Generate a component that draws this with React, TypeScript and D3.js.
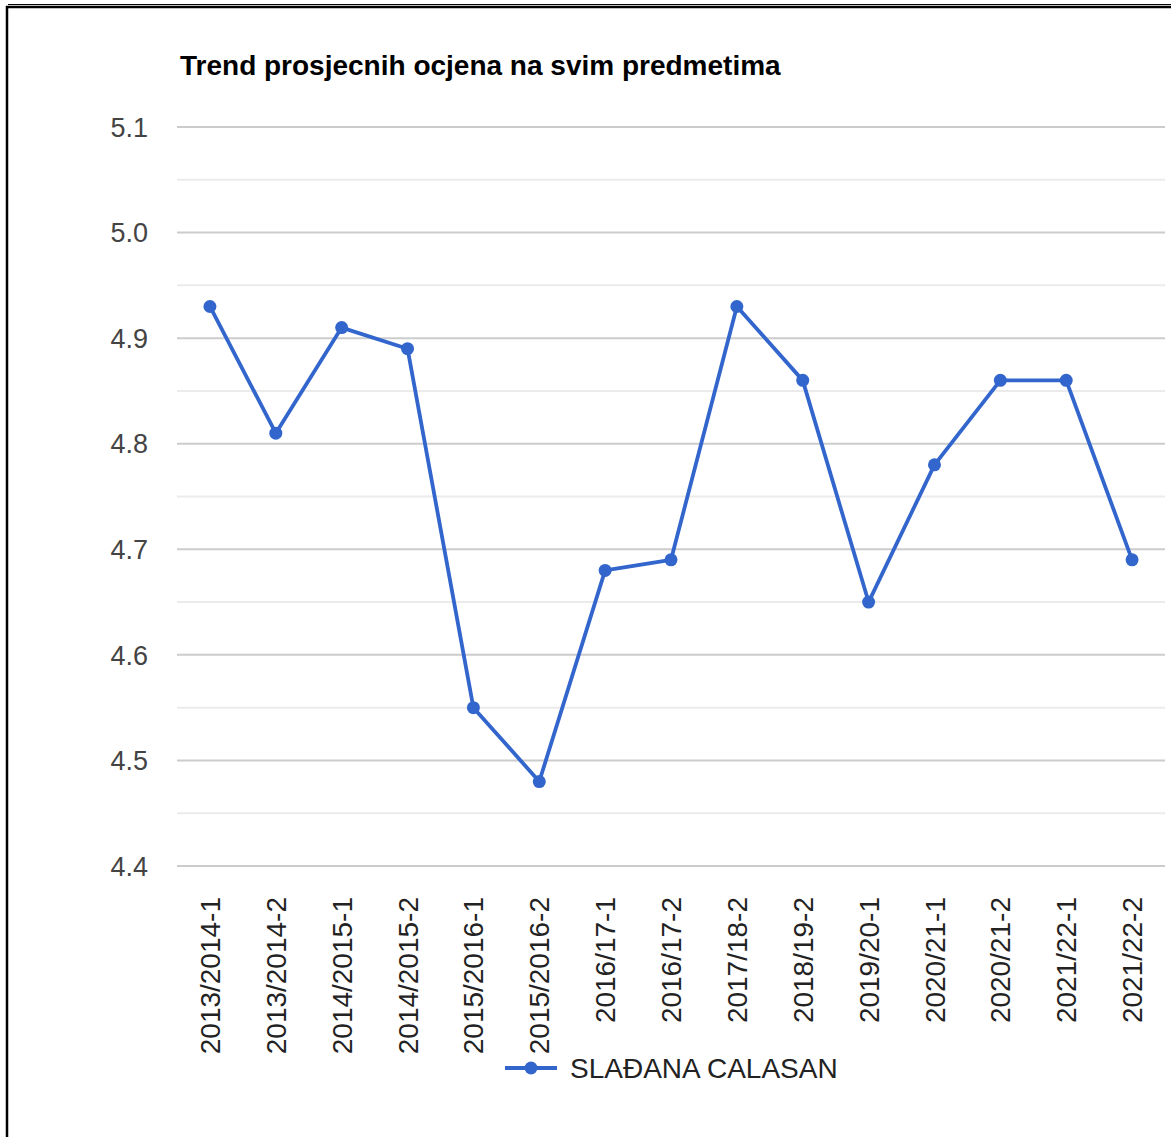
import { useEffect, useRef } from 'react';
import * as d3 from 'd3';

const W = 1171;
const H = 1137;

// periodi (polugodista) i prosjecne ocjene
const periods: string[] = [
  '2013/2014-1',
  '2013/2014-2',
  '2014/2015-1',
  '2014/2015-2',
  '2015/2016-1',
  '2015/2016-2',
  '2016/17-1',
  '2016/17-2',
  '2017/18-2',
  '2018/19-2',
  '2019/20-1',
  '2020/21-1',
  '2020/21-2',
  '2021/22-1',
  '2021/22-2',
];
const averages: number[] = [
  4.93, 4.81, 4.91, 4.89, 4.55, 4.48, 4.68, 4.69, 4.93, 4.86, 4.65, 4.78, 4.86, 4.86, 4.69,
];
const yTicks: number[] = [4.4, 4.5, 4.6, 4.7, 4.8, 4.9, 5.0, 5.1];
const seriesName = 'SLAĐANA CALASAN';
const title = 'Trend prosjecnih ocjena na svim predmetima';

const FONT = '"Liberation Sans", Arial, sans-serif';
const BLUE = '#3366cc';

const App: React.FC = () => {
  const svgRef = useRef<SVGSVGElement | null>(null);

  useEffect(() => {
    if (svgRef.current === null) return;
    const svg = d3.select(svgRef.current);
    svg.selectAll('*').remove();

    const plot = { left: 177, right: 1165, top: 127, bottom: 866 };

    const x = d3
      .scaleBand<string>()
      .domain(periods)
      .range([plot.left, plot.right])
      .padding(0);
    const cx = (d: string) => (x(d) ?? 0) + x.bandwidth() / 2;

    const y = d3.scaleLinear().domain([4.4, 5.1]).range([plot.bottom, plot.top]);

    // okvir
    svg
      .append('line')
      .attr('x1', 8)
      .attr('x2', W)
      .attr('y1', 4.5)
      .attr('y2', 4.5)
      .attr('stroke', '#000')
      .attr('stroke-width', 1);
    svg
      .append('line')
      .attr('x1', 6)
      .attr('x2', W)
      .attr('y1', 7)
      .attr('y2', 7)
      .attr('stroke', '#000')
      .attr('stroke-width', 2.5);
    svg
      .append('line')
      .attr('x1', 7)
      .attr('x2', 7)
      .attr('y1', 6)
      .attr('y2', H)
      .attr('stroke', '#000')
      .attr('stroke-width', 2.5);

    // naslov
    svg
      .append('text')
      .attr('x', 180)
      .attr('y', 75)
      .attr('font-family', FONT)
      .attr('font-weight', 'bold')
      .attr('font-size', 28)
      .attr('fill', '#000')
      .text(title);

    // pomocne linije (izmedju glavnih)
    const minor = yTicks.slice(0, -1).map((t) => t + 0.05);
    svg
      .selectAll('.minor')
      .data(minor)
      .enter()
      .append('line')
      .attr('class', 'minor')
      .attr('x1', plot.left)
      .attr('x2', plot.right)
      .attr('y1', (d) => y(d))
      .attr('y2', (d) => y(d))
      .attr('stroke', '#ebebeb')
      .attr('stroke-width', 2);

    svg
      .selectAll('.major')
      .data(yTicks)
      .enter()
      .append('line')
      .attr('class', 'major')
      .attr('x1', plot.left)
      .attr('x2', plot.right)
      .attr('y1', (d) => y(d))
      .attr('y2', (d) => y(d))
      .attr('stroke', '#cccccc')
      .attr('stroke-width', 2);

    // y oznake
    svg
      .selectAll('.ylab')
      .data(yTicks)
      .enter()
      .append('text')
      .attr('class', 'ylab')
      .attr('x', 148)
      .attr('y', (d) => y(d))
      .attr('dy', '0.36em')
      .attr('text-anchor', 'end')
      .attr('font-family', FONT)
      .attr('font-size', 27)
      .attr('fill', '#444')
      .text((d) => d.toFixed(1));

    // x oznake, rotirane
    svg
      .selectAll('.xlab')
      .data(periods)
      .enter()
      .append('text')
      .attr('class', 'xlab')
      .attr('transform', (d) => `translate(${cx(d)},897) rotate(-90)`)
      .attr('dy', '0.36em')
      .attr('text-anchor', 'end')
      .attr('font-family', FONT)
      .attr('font-size', 28)
      .attr('fill', '#222')
      .text((d) => d);

    // linija
    const line = d3
      .line<number>()
      .x((_, i) => cx(periods[i]))
      .y((d) => y(d));
    svg
      .append('path')
      .datum(averages)
      .attr('d', line)
      .attr('fill', 'none')
      .attr('stroke', BLUE)
      .attr('stroke-width', 3.8)
      .attr('stroke-linejoin', 'round');

    svg
      .selectAll('.pt')
      .data(averages)
      .enter()
      .append('circle')
      .attr('class', 'pt')
      .attr('cx', (_, i) => cx(periods[i]))
      .attr('cy', (d) => y(d))
      .attr('r', 6.5)
      .attr('fill', BLUE);

    // legenda
    const lg = svg.append('g').attr('transform', 'translate(505,1068)');
    lg.append('line')
      .attr('x1', 0)
      .attr('x2', 52)
      .attr('y1', 0)
      .attr('y2', 0)
      .attr('stroke', BLUE)
      .attr('stroke-width', 3.8);
    lg.append('circle').attr('cx', 26).attr('cy', 0).attr('r', 6.5).attr('fill', BLUE);
    lg.append('text')
      .attr('x', 65)
      .attr('y', 0)
      .attr('dy', '0.36em')
      .attr('font-family', FONT)
      .attr('font-size', 28)
      .attr('fill', '#222')
      .text(seriesName);
  }, []);

  return (
    <svg
      ref={svgRef}
      width={W}
      height={H}
      style={{ position: 'absolute', left: 0, top: 0, background: '#fff', display: 'block' }}
    ></svg>
  );
};

export default App;
